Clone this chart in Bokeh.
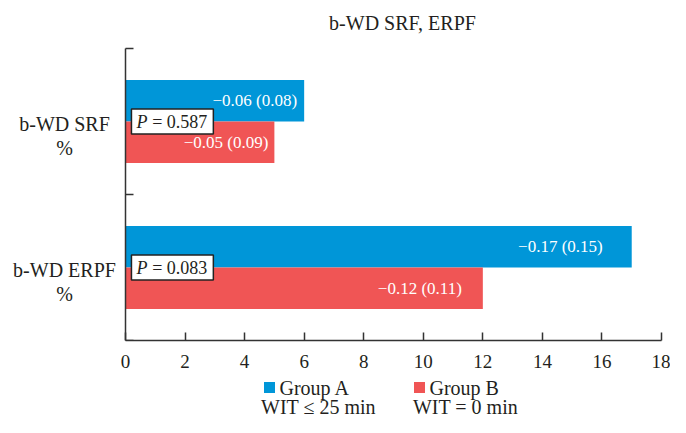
from bokeh.plotting import figure
from bokeh.layouts import column
from bokeh.models import Range1d, FixedTicker, ColumnDataSource, LinearAxis
from bokeh.core.properties import value
from bokeh.embed import file_html
from bokeh.resources import INLINE

# ---- data ----
title_text = "b-WD SRF, ERPF"
categories = ["b-WD SRF", "b-WD ERPF"]
category_units = ["%", "%"]
group_a = [6, 17]
group_b = [5, 12]
labels_a = ["\u22120.06 (0.08)", "\u22120.17 (0.15)"]
labels_b = ["\u22120.05 (0.09)", "\u22120.12 (0.11)"]
p_values = ["= 0.587", "= 0.083"]
x_ticks = [0, 2, 4, 6, 8, 10, 12, 14, 16, 18]
series_names = ["Group A", "Group B"]
series_notes = ["WIT \u2264 25 min", "WIT = 0 min"]

# ---- style / layout constants ----
FONT = "Liberation Serif"
TXT = "#231f20"
AX = "#333333"
BLUE = "#0096d8"
RED = "#f05555"
COLORS = [BLUE, RED]
BAR_H = 0.285
n = len(categories)
centers = [n - i - 0.5 for i in range(n)]
label_off_a = [-7, -29]
label_off_b = [-6, -21]
W = 670
BL, BR = 4, 9               # canvas borders left / right
AXIS_X0 = 125               # canvas x of value 0
XMAX = x_ticks[-1]
PPU = (W - BR - AXIS_X0) / XMAX
X_START = -(AXIS_X0 - BL) / PPU
PPC = 146                   # pixels per category
TOP_PAD = 48                # pixels above the category area (title)
Y_TOP = n + TOP_PAD / PPC
MAIN_H = 370

p = figure(width=W, height=MAIN_H, x_range=Range1d(X_START, XMAX),
           y_range=Range1d(0, Y_TOP), y_axis_location=None,
           output_backend="svg", toolbar_location=None,
           min_border_left=BL, min_border_right=BR, min_border_top=0,
           min_border_bottom=MAIN_H - 340)
p.outline_line_color = None
p.xgrid.visible = False
p.ygrid.visible = False

xa = p.xaxis[0]
xa.ticker = FixedTicker(ticks=x_ticks)
xa.bounds = (0, XMAX)
xa.major_tick_in = 8
xa.major_tick_out = 0
xa.minor_tick_line_color = None
xa.axis_line_color = AX
xa.axis_line_width = 1.5
xa.major_tick_line_color = AX
xa.major_tick_line_width = 1.5
xa.major_label_text_font = FONT
xa.major_label_text_font_size = "19px"
xa.major_label_text_color = TXT
xa.major_label_standoff = 14

ya = LinearAxis(fixed_location=0, bounds=(0, n),
                ticker=FixedTicker(ticks=[], minor_ticks=list(range(n + 1))))
ya.major_tick_line_color = None
ya.major_tick_in = 0
ya.major_tick_out = 0
ya.major_label_text_font_size = "0px"
ya.major_label_standoff = 0
ya.minor_tick_in = 8
ya.minor_tick_out = 0
ya.minor_tick_line_color = AX
ya.minor_tick_line_width = 1.5
ya.axis_line_color = AX
ya.axis_line_width = 1.5
p.add_layout(ya, "left")

src = ColumnDataSource(dict(
    ya=[c + BAR_H / 2 for c in centers],
    yb=[c - BAR_H / 2 for c in centers],
    a=group_a, b=group_b, la=labels_a, lb=labels_b,
    oa=label_off_a, ob=label_off_b,
    c=centers, pv=p_values, cat=categories, unit=category_units,
    bot=[c - 0.085 for c in centers], top=[c + 0.085 for c in centers],
))

p.hbar(y="ya", right="a", left=0, height=BAR_H, source=src,
       fill_color=BLUE, line_color=None)
p.hbar(y="yb", right="b", left=0, height=BAR_H, source=src,
       fill_color=RED, line_color=None)

common = dict(text_font=value(FONT), text_font_size="17px", text_color="white",
              text_align="right", text_baseline="middle")
p.text(x="a", y="ya", text="la", x_offset="oa", source=src, **common)
p.text(x="b", y="yb", text="lb", x_offset="ob", source=src, **common)

# P-value boxes
p.quad(left=0.2, right=2.95, bottom="bot", top="top", source=src,
       fill_color="white", line_color="#222222", line_width=1.5)
p.text(x=0.2, y="c", text=value("P"), x_offset=5, source=src,
       text_font=value(FONT), text_font_size="18px", text_font_style="italic",
       text_color=TXT, text_align="left", text_baseline="middle")
p.text(x=2.95, y="c", text="pv", x_offset=-6, source=src,
       text_font=value(FONT), text_font_size="18px", text_color=TXT,
       text_align="right", text_baseline="middle")

# category labels (left of the value axis)
LAB_X = X_START + (64 - BL) / PPU
lab = dict(text_font=value(FONT), text_font_size="20px", text_color=TXT,
           text_align="center", text_baseline="middle")
p.text(x=LAB_X, y="c", text="cat", y_offset=2, source=src, **lab)
p.text(x=LAB_X, y="c", text="unit", y_offset=26, source=src, **lab)

# title
p.text(x=[(402 - AXIS_X0) / PPU], y=[Y_TOP - 22 / PPC], text=[title_text],
       text_font=value(FONT), text_font_size="20px", text_color=TXT,
       text_align="center", text_baseline="middle")

# ---- legend strip below ----
LH = 417 - MAIN_H
leg = figure(width=W, height=LH, x_range=Range1d(BL, W - BR),
             y_range=Range1d(LH, 0), output_backend="svg",
             toolbar_location=None, min_border_left=BL, min_border_right=BR,
             min_border_top=0, min_border_bottom=0)
leg.axis.visible = False
leg.grid.visible = False
leg.outline_line_color = None

sq_x = [269, 419]
note_x = [318, 465]
leg_src = ColumnDataSource(dict(sx=sq_x, tx=[x + 10 for x in sq_x], nx=note_x,
                                name=series_names, note=series_notes,
                                col=COLORS, sy=[17, 17], ny=[36, 36]))
leg.rect(x="sx", y="sy", width=11, height=11, source=leg_src,
         fill_color="col", line_color=None)
leg.text(x="tx", y="sy", text="name", source=leg_src, text_font=value(FONT),
         text_font_size="20px", text_color=TXT, text_align="left",
         text_baseline="middle")
leg.text(x="nx", y="ny", text="note", source=leg_src, text_font=value(FONT),
         text_font_size="20px", text_color=TXT, text_align="center",
         text_baseline="middle")

layout = column(p, leg, spacing=0)
open("out.html", "w").write(file_html(layout, INLINE))
